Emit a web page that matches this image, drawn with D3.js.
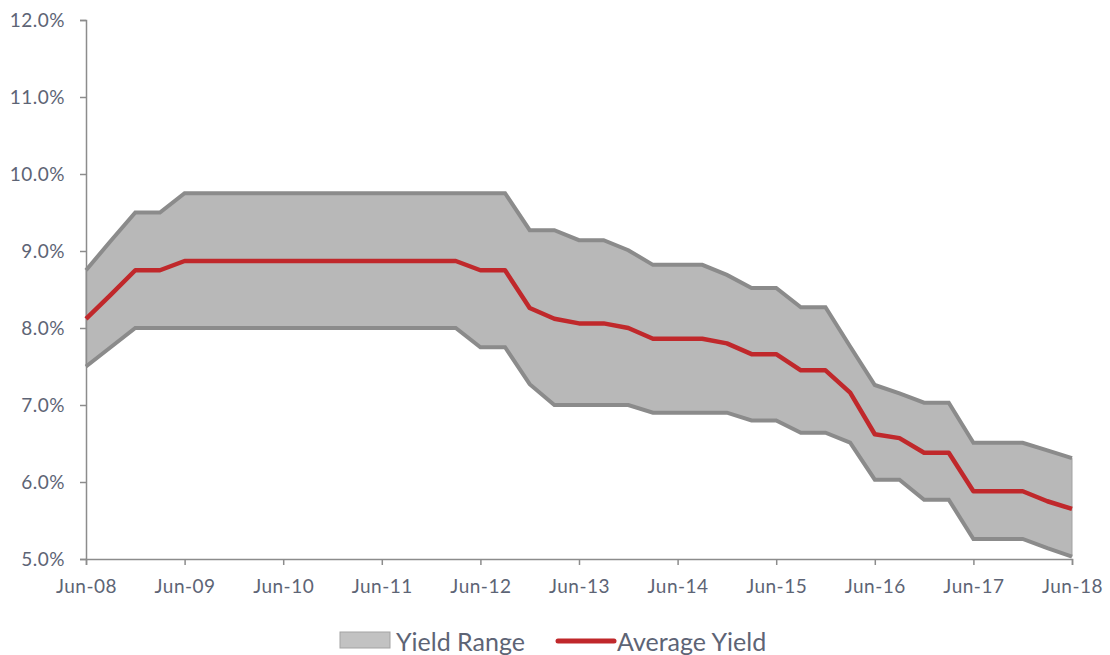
<!DOCTYPE html>
<html>
<head>
<meta charset="utf-8">
<script src="https://cdn.jsdelivr.net/npm/d3@7"></script>
<style>
  html, body { margin: 0; padding: 0; background: #ffffff; }
  svg { display: block; font-family: Lato, "Open Sans", sans-serif; }
</style>
</head>
<body>
<svg id="chart" width="1110" height="655"></svg>
<script>
// Quarterly observations, Jun-08 through Jun-18
const quarters = [
  "Jun-08","Sep-08","Dec-08","Mar-09","Jun-09","Sep-09","Dec-09","Mar-10",
  "Jun-10","Sep-10","Dec-10","Mar-11","Jun-11","Sep-11","Dec-11","Mar-12",
  "Jun-12","Sep-12","Dec-12","Mar-13","Jun-13","Sep-13","Dec-13","Mar-14",
  "Jun-14","Sep-14","Dec-14","Mar-15","Jun-15","Sep-15","Dec-15","Mar-16",
  "Jun-16","Sep-16","Dec-16","Mar-17","Jun-17","Sep-17","Dec-17","Mar-18",
  "Jun-18"
];

// Yield range, upper bound (%)
const upperYield = [
  8.75, 9.13, 9.50, 9.50, 9.75, 9.75, 9.75, 9.75,
  9.75, 9.75, 9.75, 9.75, 9.75, 9.75, 9.75, 9.75,
  9.75, 9.75, 9.27, 9.27, 9.14, 9.14, 9.01, 8.82,
  8.82, 8.82, 8.69, 8.52, 8.52, 8.27, 8.27, 7.76,
  7.26, 7.15, 7.03, 7.03, 6.51, 6.51, 6.51, 6.41,
  6.31
];

// Yield range, lower bound (%)
const lowerYield = [
  7.50, 7.75, 8.00, 8.00, 8.00, 8.00, 8.00, 8.00,
  8.00, 8.00, 8.00, 8.00, 8.00, 8.00, 8.00, 8.00,
  7.75, 7.75, 7.27, 7.00, 7.00, 7.00, 7.00, 6.90,
  6.90, 6.90, 6.90, 6.80, 6.80, 6.64, 6.64, 6.51,
  6.03, 6.03, 5.77, 5.77, 5.26, 5.26, 5.26, 5.14,
  5.03
];

// Average yield (%)
const averageYield = [
  8.12, 8.43, 8.75, 8.75, 8.87, 8.87, 8.87, 8.87,
  8.87, 8.87, 8.87, 8.87, 8.87, 8.87, 8.87, 8.87,
  8.75, 8.75, 8.26, 8.12, 8.06, 8.06, 8.00, 7.86,
  7.86, 7.86, 7.80, 7.66, 7.66, 7.45, 7.45, 7.16,
  6.62, 6.57, 6.38, 6.38, 5.88, 5.88, 5.88, 5.75,
  5.65
];

const yTicks = [5, 6, 7, 8, 9, 10, 11, 12];
const xTickLabels = ["Jun-08","Jun-09","Jun-10","Jun-11","Jun-12","Jun-13",
                     "Jun-14","Jun-15","Jun-16","Jun-17","Jun-18"];

const legendLabels = ["Yield Range", "Average Yield"];

// ---- layout ----
const svg = d3.select("#chart");
const plotLeft = 86, plotRight = 1072, plotTop = 20, plotBottom = 559;

const x = d3.scalePoint().domain(quarters).range([plotLeft, plotRight]);
const y = d3.scaleLinear().domain([5, 12]).range([plotBottom, plotTop]);

const textColor = "#5d6475";
const axisColor = "#8c8c8c";

const rows = quarters.map((q, i) => ({
  q, lo: lowerYield[i], hi: upperYield[i], avg: averageYield[i]
}));

// ---- yield range band ----
const area = d3.area()
  .x(d => x(d.q))
  .y0(d => y(d.lo))
  .y1(d => y(d.hi));

svg.append("path")
  .datum(rows)
  .attr("d", area)
  .attr("fill", "#b8b8b8")
  .attr("stroke", "#a2a2a2")
  .attr("stroke-width", 1);

const edge = key => d3.line().x(d => x(d.q)).y(d => y(d[key]));
["hi", "lo"].forEach(k => {
  svg.append("path")
    .datum(rows)
    .attr("d", edge(k))
    .attr("fill", "none")
    .attr("stroke", "#8b8b8b")
    .attr("stroke-width", 4)
    .attr("stroke-linejoin", "miter");
});

// ---- axes ----
const yAxis = d3.axisLeft(y)
  .tickValues(yTicks)
  .tickSize(6)
  .tickPadding(15)
  .tickFormat(d => d.toFixed(1) + "%");

const gy = svg.append("g")
  .attr("transform", `translate(${plotLeft},0)`)
  .call(yAxis);

const xAxis = d3.axisBottom(x)
  .tickValues(xTickLabels)
  .tickSize(6)
  .tickPadding(15);

const gx = svg.append("g")
  .attr("transform", `translate(0,${plotBottom})`)
  .call(xAxis);

[gx, gy].forEach(g => {
  g.attr("font-size", null).attr("font-family", null);
  g.select(".domain").attr("stroke", axisColor).attr("stroke-width", 1.5);
  g.selectAll(".tick line").attr("stroke", axisColor).attr("stroke-width", 1.5);
  g.selectAll(".tick text")
    .attr("fill", textColor)
    .style("font-size", "19px")
    .style("letter-spacing", "0.5px")
    .style("font-family", "Lato, 'Open Sans', sans-serif");
});

// ---- average yield line ----
svg.append("path")
  .datum(rows)
  .attr("d", edge("avg"))
  .attr("fill", "none")
  .attr("stroke", "#c0282b")
  .attr("stroke-width", 4.5)
  .attr("stroke-linejoin", "round");

// ---- legend ----
const legend = svg.append("g");
legend.append("rect")
  .attr("x", 340).attr("y", 632).attr("width", 50).attr("height", 16)
  .attr("fill", "#c2c2c2").attr("stroke", "#a3a3a3").attr("stroke-width", 1);
legend.append("text")
  .attr("x", 396).attr("y", 651)
  .style("font-size", "25px").attr("fill", textColor)
  .text(legendLabels[0]);
legend.append("line")
  .attr("x1", 558).attr("x2", 614).attr("y1", 641).attr("y2", 641)
  .attr("stroke", "#c0282b").attr("stroke-width", 5).attr("stroke-linecap", "round");
legend.append("text")
  .attr("x", 617).attr("y", 651)
  .style("font-size", "25px").attr("fill", textColor)
  .text(legendLabels[1]);
</script>
</body>
</html>
